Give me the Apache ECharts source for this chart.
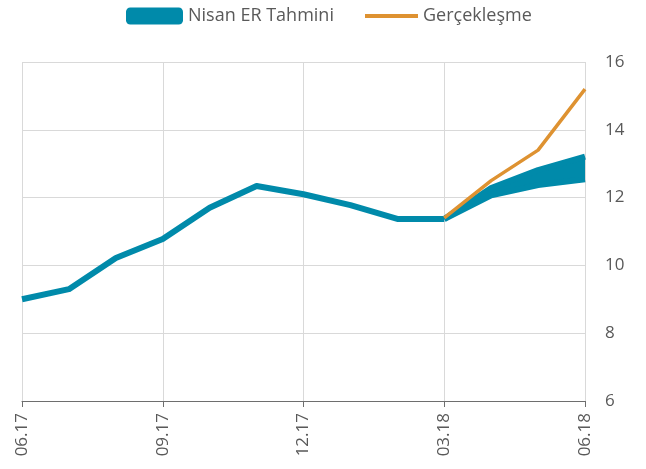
<!DOCTYPE html>
<html>
<head>
<meta charset="utf-8">
<script src="https://cdn.jsdelivr.net/npm/echarts@6/dist/echarts.min.js"></script>
<style>
  html, body { margin: 0; padding: 0; background: #fff; }
  #chart { width: 646px; height: 469px; }
</style>
</head>
<body>
<div id="chart"></div>
<script>
// aylar
const categories = ['06.17', '07.17', '08.17', '09.17', '10.17', '11.17', '12.17',
  '01.18', '02.18', '03.18', '04.18', '05.18', '06.18']

// gecmis veri (tahmin cizgisi)
const history = [9.0, 9.3, 10.22, 10.78, 11.7, 12.34, 12.1, 11.78, 11.37, 11.37, null, null, null]
// tahmin bandi alt / ust sinir
const bandLow = [null, null, null, null, null, null, null, null, null, 11.37, 12.07, 12.37, 12.54]
const bandHigh = [null, null, null, null, null, null, null, null, null, 11.37, 12.28, 12.81, 13.21]
// gerceklesme
const actual = [null, null, null, null, null, null, null, null, null, 11.4, 12.5, 13.4, 15.2]

const yTicks = { min: 6, max: 16, interval: 2 }

const blue = '#008aaa'
const orange = '#de9231'
const textColor = '#595959'
const font = "'Open Sans', sans-serif"

const bandDiff = bandHigh.map((v, i) => (v == null || bandLow[i] == null) ? null : +(v - bandLow[i]).toFixed(3))

const chart = echarts.init(document.getElementById('chart'))

const option = {
  animation: false,
  textStyle: { fontFamily: font },
  legend: [
    {
      left: 126,
      top: 7,
      padding: 0,
      itemWidth: 57,
      itemHeight: 17,
      icon: 'roundRect',
      data: ['Nisan ER Tahmini'],
      textStyle: { color: textColor, fontSize: 18, fontFamily: font, lineHeight: 17 }
    },
    {
      left: 365,
      top: 7,
      padding: 0,
      itemWidth: 53,
      itemHeight: 4,
      icon: 'rect',
      data: ['Gerçekleşme'],
      textStyle: { color: textColor, fontSize: 18, fontFamily: font, lineHeight: 17 }
    }
  ],
  grid: {
    left: 22,
    right: 61,
    top: 62,
    bottom: 68
  },
  xAxis: {
    type: 'category',
    data: categories,
    boundaryGap: false,
    axisLine: { lineStyle: { color: '#6e6e6e', width: 1 } },
    axisTick: { show: true, interval: 2, length: 6, lineStyle: { color: '#6e6e6e' } },
    axisLabel: {
      interval: 2,
      rotate: 90,
      margin: 12,
      color: textColor,
      fontSize: 17,
      fontFamily: font
    },
    splitLine: { show: true, interval: 2, lineStyle: { color: '#d9d9d9', width: 1 } }
  },
  yAxis: {
    type: 'value',
    position: 'right',
    min: yTicks.min,
    max: yTicks.max,
    interval: yTicks.interval,
    axisLine: { show: false },
    axisTick: { show: false },
    axisLabel: { margin: 20, color: textColor, fontSize: 17, fontFamily: font },
    splitLine: { lineStyle: { color: '#d9d9d9', width: 1 } }
  },
  series: [
    {
      name: 'Nisan ER Tahmini',
      type: 'line',
      data: history,
      symbol: 'none',
      color: blue,
      lineStyle: { width: 6, color: blue, join: 'round' },
      z: 3
    },
    {
      name: 'bandLow',
      type: 'line',
      stack: 'band',
      data: bandLow,
      symbol: 'none',
      color: blue,
      lineStyle: { width: 6, color: blue },
      z: 2
    },
    {
      name: 'bandDiff',
      type: 'line',
      stack: 'band',
      data: bandDiff,
      symbol: 'none',
      color: blue,
      lineStyle: { width: 6, color: blue },
      areaStyle: { color: blue, opacity: 1 },
      z: 2
    },
    {
      name: 'Gerçekleşme',
      type: 'line',
      data: actual,
      symbol: 'none',
      color: orange,
      lineStyle: { width: 3.5, color: orange },
      z: 4
    }
  ]
}

chart.setOption(option)
</script>
</body>
</html>
